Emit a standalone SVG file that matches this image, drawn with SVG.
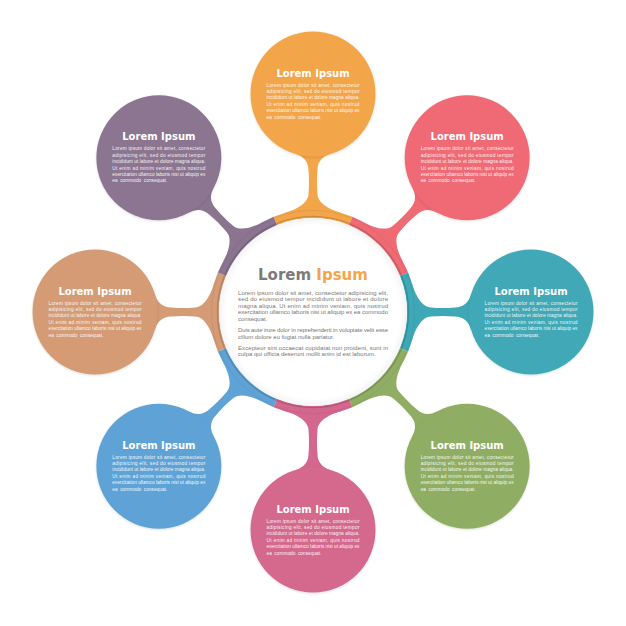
<svg xmlns="http://www.w3.org/2000/svg" xmlns:xlink="http://www.w3.org/1999/xlink" width="626" height="626" viewBox="0 0 626 626">
<style>
.t{font-family:"DejaVu Sans",Verdana,sans-serif;font-weight:bold;font-size:10px;fill:#fff;text-anchor:middle}
.b{font-family:"Liberation Sans",Arial,sans-serif;font-size:4.8px;fill:#fff;fill-opacity:0.94}
.cb{font-family:"Liberation Sans",Arial,sans-serif;font-size:6px;fill:#777}
.ct{font-family:"DejaVu Sans",Verdana,sans-serif;font-weight:bold;font-size:15px;text-anchor:middle}
</style>
<defs>
<filter id="sh" x="-20%" y="-20%" width="140%" height="140%">
<feDropShadow dx="0" dy="0.8" stdDeviation="1" flood-color="#000" flood-opacity="0.15"/>
</filter>
<radialGradient id="cg" cx="0.5" cy="0.5" r="0.5">
<stop offset="0.92" stop-color="#ffffff"/>
<stop offset="1" stop-color="#f4f4f4"/>
</radialGradient>
<path id="neck" stroke="none" d="M 99,-28.4 C 102.3,-16.9 109,-4.5 118,-4.5 C 126,-3.8 134,-3.8 142,-4.5 C 150,-4.5 155.7,-9.5 157.9,-17.2 L 175,0 L 157.9,17.2 C 155.7,9.5 150,4.5 142,4.5 C 134,3.8 126,3.8 118,4.5 C 109,4.5 102.3,16.9 99,28.4 Z"/>
<path id="arc" fill="none" stroke-width="9" d="M 91.003,-37.695 A 98.5 98.5 0 0 1 91.003,37.695"/>
</defs>
<rect width="626" height="626" fill="#fff"/>

<g id="connectors">
<g transform="translate(313,312) rotate(-90)" fill="#F3A54A" stroke="#F3A54A"><use xlink:href="#neck"/><use xlink:href="#arc"/></g>
<g transform="translate(313,312) rotate(-45)" fill="#EF6B74" stroke="#EF6B74"><use xlink:href="#neck"/><use xlink:href="#arc"/></g>
<g transform="translate(313,312) rotate(0)" fill="#3FA8B6" stroke="#3FA8B6"><use xlink:href="#neck"/><use xlink:href="#arc"/></g>
<g transform="translate(313,312) rotate(45)" fill="#8FAE63" stroke="#8FAE63"><use xlink:href="#neck"/><use xlink:href="#arc"/></g>
<g transform="translate(313,312) rotate(90)" fill="#D4678D" stroke="#D4678D"><use xlink:href="#neck"/><use xlink:href="#arc"/></g>
<g transform="translate(313,312) rotate(135)" fill="#5FA3D6" stroke="#5FA3D6"><use xlink:href="#neck"/><use xlink:href="#arc"/></g>
<g transform="translate(313,312) rotate(180)" fill="#D49B75" stroke="#D49B75"><use xlink:href="#neck"/><use xlink:href="#arc"/></g>
<g transform="translate(313,312) rotate(-135)" fill="#8B7490" stroke="#8B7490"><use xlink:href="#neck"/><use xlink:href="#arc"/></g>
<circle cx="313" cy="312" r="95.6" fill="none" stroke="#000" stroke-opacity="0.16" stroke-width="1.4"/>
<circle cx="313" cy="312" r="101.5" fill="none" stroke="#000" stroke-opacity="0.06" stroke-width="1"/>
</g>

<g id="center">
<circle cx="313" cy="312" r="94" fill="url(#cg)"/>
<text class="ct" x="313" y="279.5"><tspan fill="#7b7b7b">Lorem </tspan><tspan fill="#F3A54A">Ipsum</tspan></text>
<text class="cb" x="238" y="294.7" textLength="150" lengthAdjust="spacing">Lorem ipsum dolor sit amet, consectetur adipisicing elit,</text>
<text class="cb" x="238" y="301.2" textLength="150" lengthAdjust="spacing">sed do eiusmod tempor incididunt ut labore et dolore</text>
<text class="cb" x="238" y="307.7" textLength="150" lengthAdjust="spacing">magna aliqua. Ut enim ad minim veniam, quis nostrud</text>
<text class="cb" x="238" y="314.2" textLength="150" lengthAdjust="spacing">exercitation ullamco laboris nisi ut aliquip ex ea commodo</text>
<text class="cb" x="238" y="320.7">consequat.</text>
<text class="cb" x="238" y="332" textLength="150" lengthAdjust="spacing">Duis aute irure dolor in reprehenderit in voluptate velit esse</text>
<text class="cb" x="238" y="338.5">cillum dolore eu fugiat nulla pariatur.</text>
<text class="cb" x="238" y="349.7" textLength="150" lengthAdjust="spacing">Excepteur sint occaecat cupidatat non proident, sunt in</text>
<text class="cb" x="238" y="356.2">culpa qui officia deserunt mollit anim id est laborum.</text>
</g>

<g id="node-orange" transform="translate(313,94)">
<circle r="62.5" fill="#F3A54A" filter="url(#sh)"/>
<text class="t" y="-17.5">Lorem Ipsum</text>
<text class="b" x="-46.5" y="-7.5" textLength="93" lengthAdjust="spacing">Lorem ipsum dolor sit amet, consectetur</text>
<text class="b" x="-46.5" y="-1.1" textLength="93" lengthAdjust="spacing">adipisicing elit, sed do eiusmod tempor</text>
<text class="b" x="-46.5" y="5.3" textLength="93" lengthAdjust="spacing">incididunt ut labore et dolore magna aliqua.</text>
<text class="b" x="-46.5" y="11.7" textLength="93" lengthAdjust="spacing">Ut enim ad minim veniam, quis nostrud</text>
<text class="b" x="-46.5" y="18.1" textLength="93" lengthAdjust="spacing">exercitation ullamco laboris nisi ut aliquip ex</text>
<text class="b" x="-46.5" y="24.5" word-spacing="1.2">ea commodo consequat.</text>
</g>

<g id="node-red" transform="translate(467.15,157.85)">
<circle r="62.5" fill="#EF6B74" filter="url(#sh)"/>
<text class="t" y="-17.5">Lorem Ipsum</text>
<text class="b" x="-46.5" y="-7.5" textLength="93" lengthAdjust="spacing">Lorem ipsum dolor sit amet, consectetur</text>
<text class="b" x="-46.5" y="-1.1" textLength="93" lengthAdjust="spacing">adipisicing elit, sed do eiusmod tempor</text>
<text class="b" x="-46.5" y="5.3" textLength="93" lengthAdjust="spacing">incididunt ut labore et dolore magna aliqua.</text>
<text class="b" x="-46.5" y="11.7" textLength="93" lengthAdjust="spacing">Ut enim ad minim veniam, quis nostrud</text>
<text class="b" x="-46.5" y="18.1" textLength="93" lengthAdjust="spacing">exercitation ullamco laboris nisi ut aliquip ex</text>
<text class="b" x="-46.5" y="24.5" word-spacing="1.2">ea commodo consequat.</text>
</g>

<g id="node-teal" transform="translate(531,312)">
<circle r="62.5" fill="#3FA8B6" filter="url(#sh)"/>
<text class="t" y="-17.5">Lorem Ipsum</text>
<text class="b" x="-46.5" y="-7.5" textLength="93" lengthAdjust="spacing">Lorem ipsum dolor sit amet, consectetur</text>
<text class="b" x="-46.5" y="-1.1" textLength="93" lengthAdjust="spacing">adipisicing elit, sed do eiusmod tempor</text>
<text class="b" x="-46.5" y="5.3" textLength="93" lengthAdjust="spacing">incididunt ut labore et dolore magna aliqua.</text>
<text class="b" x="-46.5" y="11.7" textLength="93" lengthAdjust="spacing">Ut enim ad minim veniam, quis nostrud</text>
<text class="b" x="-46.5" y="18.1" textLength="93" lengthAdjust="spacing">exercitation ullamco laboris nisi ut aliquip ex</text>
<text class="b" x="-46.5" y="24.5" word-spacing="1.2">ea commodo consequat.</text>
</g>

<g id="node-green" transform="translate(467.15,466.15)">
<circle r="62.5" fill="#8FAE63" filter="url(#sh)"/>
<text class="t" y="-17.5">Lorem Ipsum</text>
<text class="b" x="-46.5" y="-7.5" textLength="93" lengthAdjust="spacing">Lorem ipsum dolor sit amet, consectetur</text>
<text class="b" x="-46.5" y="-1.1" textLength="93" lengthAdjust="spacing">adipisicing elit, sed do eiusmod tempor</text>
<text class="b" x="-46.5" y="5.3" textLength="93" lengthAdjust="spacing">incididunt ut labore et dolore magna aliqua.</text>
<text class="b" x="-46.5" y="11.7" textLength="93" lengthAdjust="spacing">Ut enim ad minim veniam, quis nostrud</text>
<text class="b" x="-46.5" y="18.1" textLength="93" lengthAdjust="spacing">exercitation ullamco laboris nisi ut aliquip ex</text>
<text class="b" x="-46.5" y="24.5" word-spacing="1.2">ea commodo consequat.</text>
</g>

<g id="node-pink" transform="translate(313,530)">
<circle r="62.5" fill="#D4678D" filter="url(#sh)"/>
<text class="t" y="-17.5">Lorem Ipsum</text>
<text class="b" x="-46.5" y="-7.5" textLength="93" lengthAdjust="spacing">Lorem ipsum dolor sit amet, consectetur</text>
<text class="b" x="-46.5" y="-1.1" textLength="93" lengthAdjust="spacing">adipisicing elit, sed do eiusmod tempor</text>
<text class="b" x="-46.5" y="5.3" textLength="93" lengthAdjust="spacing">incididunt ut labore et dolore magna aliqua.</text>
<text class="b" x="-46.5" y="11.7" textLength="93" lengthAdjust="spacing">Ut enim ad minim veniam, quis nostrud</text>
<text class="b" x="-46.5" y="18.1" textLength="93" lengthAdjust="spacing">exercitation ullamco laboris nisi ut aliquip ex</text>
<text class="b" x="-46.5" y="24.5" word-spacing="1.2">ea commodo consequat.</text>
</g>

<g id="node-blue" transform="translate(158.85,466.15)">
<circle r="62.5" fill="#5FA3D6" filter="url(#sh)"/>
<text class="t" y="-17.5">Lorem Ipsum</text>
<text class="b" x="-46.5" y="-7.5" textLength="93" lengthAdjust="spacing">Lorem ipsum dolor sit amet, consectetur</text>
<text class="b" x="-46.5" y="-1.1" textLength="93" lengthAdjust="spacing">adipisicing elit, sed do eiusmod tempor</text>
<text class="b" x="-46.5" y="5.3" textLength="93" lengthAdjust="spacing">incididunt ut labore et dolore magna aliqua.</text>
<text class="b" x="-46.5" y="11.7" textLength="93" lengthAdjust="spacing">Ut enim ad minim veniam, quis nostrud</text>
<text class="b" x="-46.5" y="18.1" textLength="93" lengthAdjust="spacing">exercitation ullamco laboris nisi ut aliquip ex</text>
<text class="b" x="-46.5" y="24.5" word-spacing="1.2">ea commodo consequat.</text>
</g>

<g id="node-tan" transform="translate(95,312)">
<circle r="62.5" fill="#D49B75" filter="url(#sh)"/>
<text class="t" y="-17.5">Lorem Ipsum</text>
<text class="b" x="-46.5" y="-7.5" textLength="93" lengthAdjust="spacing">Lorem ipsum dolor sit amet, consectetur</text>
<text class="b" x="-46.5" y="-1.1" textLength="93" lengthAdjust="spacing">adipisicing elit, sed do eiusmod tempor</text>
<text class="b" x="-46.5" y="5.3" textLength="93" lengthAdjust="spacing">incididunt ut labore et dolore magna aliqua.</text>
<text class="b" x="-46.5" y="11.7" textLength="93" lengthAdjust="spacing">Ut enim ad minim veniam, quis nostrud</text>
<text class="b" x="-46.5" y="18.1" textLength="93" lengthAdjust="spacing">exercitation ullamco laboris nisi ut aliquip ex</text>
<text class="b" x="-46.5" y="24.5" word-spacing="1.2">ea commodo consequat.</text>
</g>

<g id="node-purple" transform="translate(158.85,157.85)">
<circle r="62.5" fill="#8B7490" filter="url(#sh)"/>
<text class="t" y="-17.5">Lorem Ipsum</text>
<text class="b" x="-46.5" y="-7.5" textLength="93" lengthAdjust="spacing">Lorem ipsum dolor sit amet, consectetur</text>
<text class="b" x="-46.5" y="-1.1" textLength="93" lengthAdjust="spacing">adipisicing elit, sed do eiusmod tempor</text>
<text class="b" x="-46.5" y="5.3" textLength="93" lengthAdjust="spacing">incididunt ut labore et dolore magna aliqua.</text>
<text class="b" x="-46.5" y="11.7" textLength="93" lengthAdjust="spacing">Ut enim ad minim veniam, quis nostrud</text>
<text class="b" x="-46.5" y="18.1" textLength="93" lengthAdjust="spacing">exercitation ullamco laboris nisi ut aliquip ex</text>
<text class="b" x="-46.5" y="24.5" word-spacing="1.2">ea commodo consequat.</text>
</g>
</svg>
